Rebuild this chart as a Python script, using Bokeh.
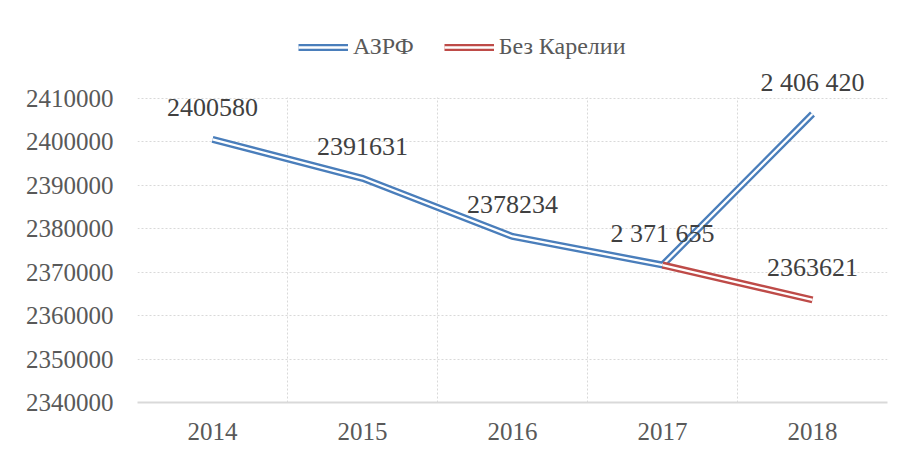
from bokeh.plotting import figure
from bokeh.models import (ColumnDataSource, LabelSet, Legend, LegendItem, Grid,
                          FixedTicker, Range1d, BoxAnnotation)
from bokeh.embed import file_html
from bokeh.resources import INLINE

years = ["2014", "2015", "2016", "2017", "2018"]
azrf = [2400580, 2391631, 2378234, 2371655, 2406420]
azrf_labels = ["2400580", "2391631", "2378234", "2 371 655", "2 406 420"]
bez_years = ["2017", "2018"]
bez_karelii = [2371655, 2363621]
bez_labels = ["", "2363621"]
y_ticks = [2340000, 2350000, 2360000, 2370000, 2380000, 2390000, 2400000, 2410000]

FONT = "Liberation Serif"
BLUE = "#4A7EBB"
RED = "#BE4B48"
TXT = "#404040"
GRID = "#d9d9d9"

x_a = [years.index(y) for y in years]
x_b = [years.index(y) for y in bez_years]

src_a = ColumnDataSource(dict(x=x_a, y=azrf, lab=azrf_labels))
src_b = ColumnDataSource(dict(x=x_b, y=bez_karelii, lab=bez_labels))

W, H = 892, 447
top_px = 10
plot_top, plot_bottom = 98, 402
ymin, ymax = y_ticks[0], y_ticks[-1]
units_per_px = (ymax - ymin) / (plot_bottom - plot_top)
y_end = ymax + (plot_top - top_px) * units_per_px

p = figure(width=W, height=H, output_backend="svg", toolbar_location=None,
           x_range=Range1d(-0.5, len(years) - 0.5),
           y_range=Range1d(ymin, y_end),
           min_border_left=137, min_border_right=W - 887, min_border_top=top_px,
           min_border_bottom=H - plot_bottom)
p.outline_line_color = None
p.background_fill_color = "white"
p.border_fill_color = "white"

# grids
p.ygrid.ticker = FixedTicker(ticks=y_ticks)
p.ygrid.grid_line_color = GRID
p.ygrid.grid_line_dash = "2 2"
p.ygrid.grid_line_width = 1
p.xgrid.ticker = FixedTicker(ticks=[i + 0.5 for i in range(len(years))])
p.xgrid.grid_line_color = GRID
p.xgrid.grid_line_dash = "2 2"
p.xgrid.grid_line_width = 1
p.add_layout(Grid(dimension=0, ticker=FixedTicker(ticks=[-0.5]),
                  grid_line_color=GRID, grid_line_width=1))
# hide grid above the plot area (legend/label space)
p.add_layout(BoxAnnotation(bottom=ymax + units_per_px, fill_color="white", fill_alpha=1,
                           line_color=None, level="underlay"))

# axes
p.xaxis.ticker = FixedTicker(ticks=x_a)
p.xaxis.major_label_overrides = {i: y for i, y in enumerate(years)}
p.xaxis.axis_line_color = GRID
p.xaxis.axis_line_width = 2
p.xaxis.major_tick_line_color = None
p.xaxis.minor_tick_line_color = None
p.xaxis.major_label_text_font = FONT
p.xaxis.major_label_text_font_size = "25px"
p.xaxis.major_label_text_color = "#595959"
p.xaxis.major_label_standoff = 14

p.yaxis.ticker = FixedTicker(ticks=y_ticks)
p.yaxis.axis_line_color = None
p.yaxis.major_tick_line_color = None
p.yaxis.minor_tick_line_color = None
p.yaxis.major_label_text_font = FONT
p.yaxis.major_label_text_font_size = "25px"
p.yaxis.major_label_text_color = "#595959"
p.yaxis.major_label_standoff = 18
p.yaxis.formatter.use_scientific = False

# double lines
ra1 = p.line("x", "y", source=src_a, line_color=BLUE, line_width=7, line_join="miter")
ra2 = p.line("x", "y", source=src_a, line_color="white", line_width=2.3, line_join="miter")
rb1 = p.line("x", "y", source=src_b, line_color=RED, line_width=7, line_join="miter")
rb2 = p.line("x", "y", source=src_b, line_color="white", line_width=2.3, line_join="miter")

for s in (src_a, src_b):
    p.add_layout(LabelSet(x="x", y="y", text="lab", source=s, y_offset=32,
                          text_align="center", text_baseline="middle",
                          text_font=FONT, text_font_size="26px", text_color=TXT))

legend = Legend(items=[LegendItem(label="АЗРФ", renderers=[ra1, ra2]),
                       LegendItem(label="Без Карелии", renderers=[rb1, rb2])],
                orientation="horizontal", location=(161, 342),
                label_text_font=FONT, label_text_font_size="24px",
                label_text_color="#595959", glyph_width=50, glyph_height=24,
                label_standoff=5, spacing=30, padding=0, margin=0,
                border_line_color=None, background_fill_alpha=0)
p.add_layout(legend, "center")

open("out.html", "w").write(file_html(p, INLINE))
